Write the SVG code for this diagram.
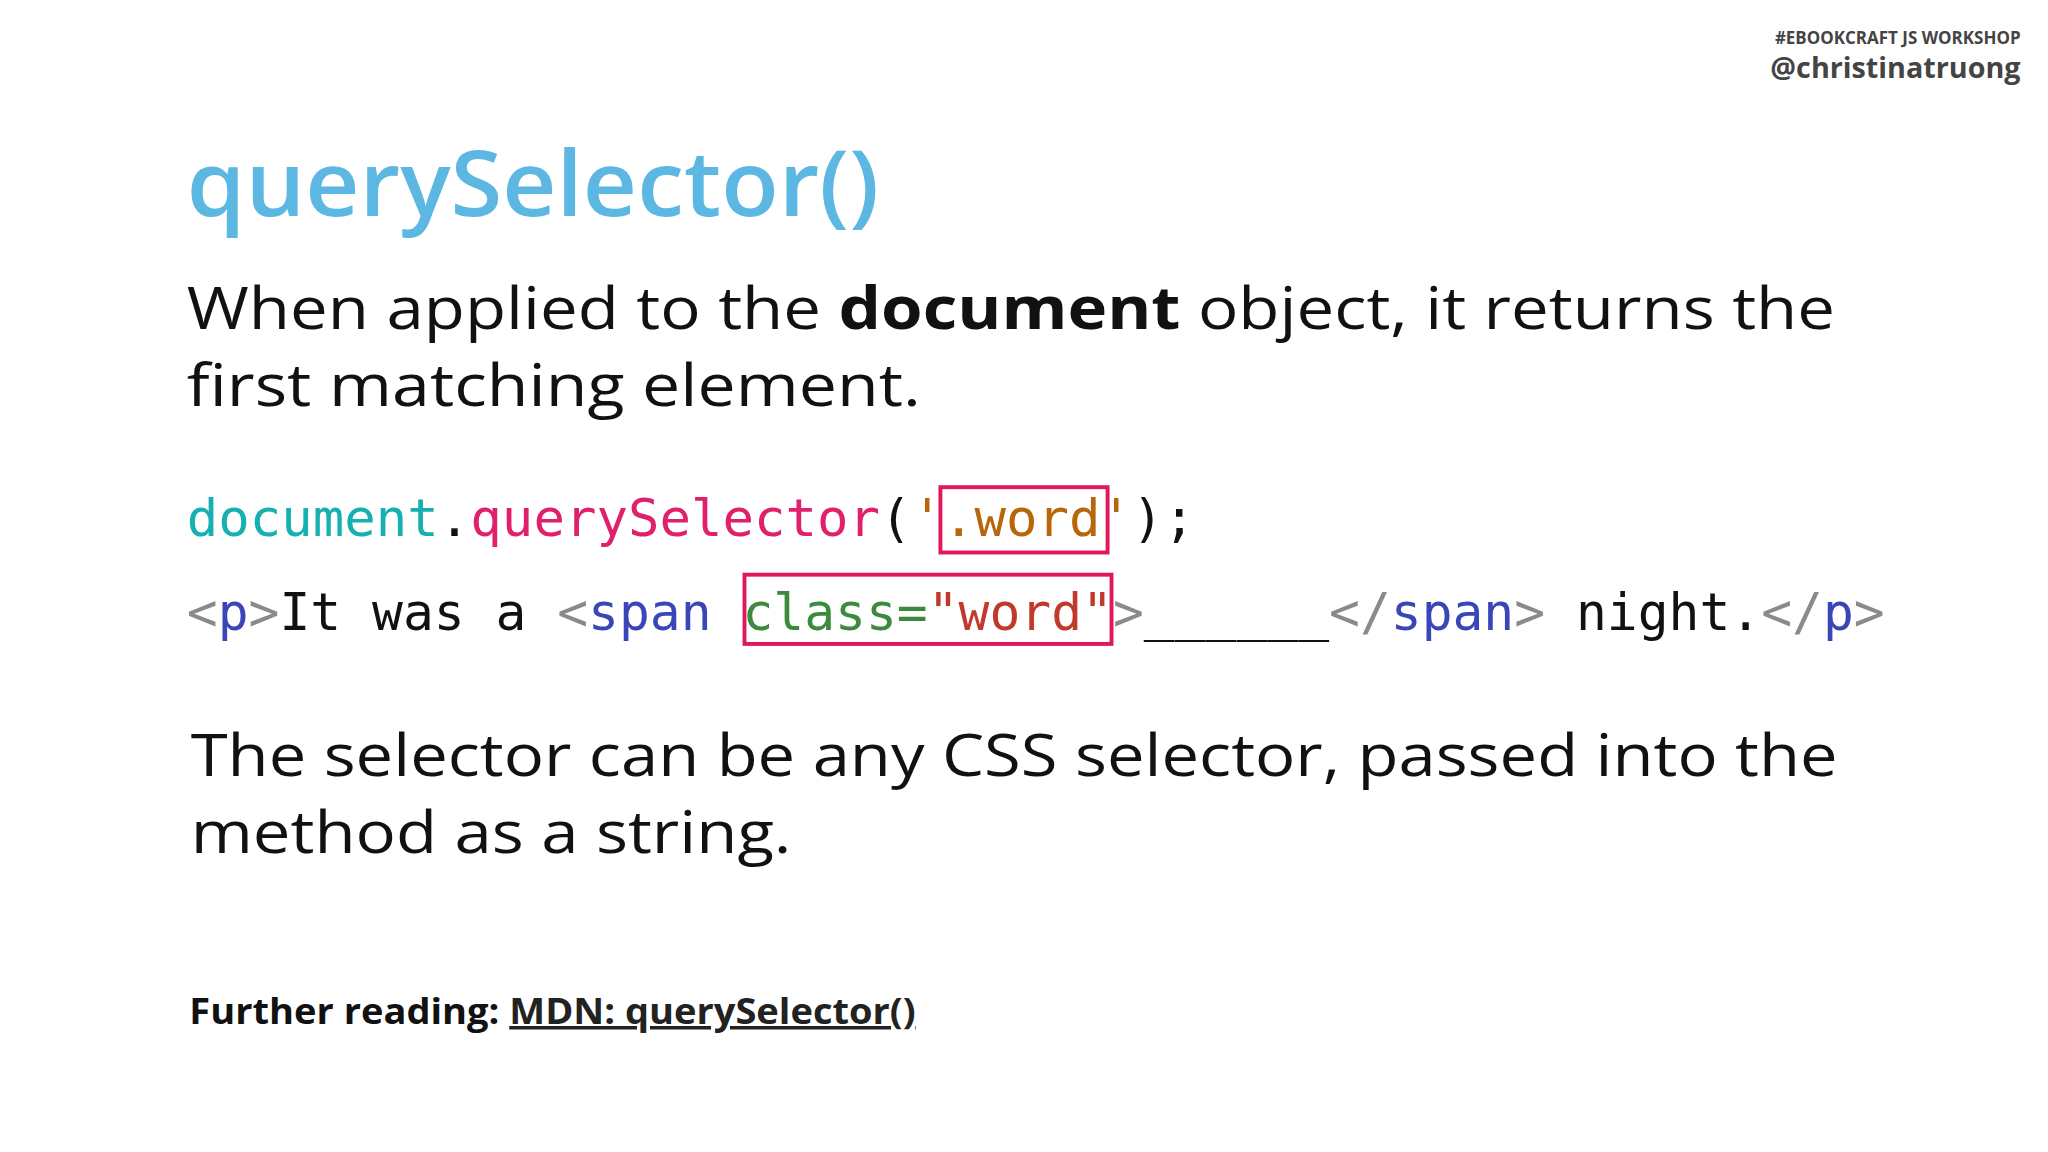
<svg xmlns="http://www.w3.org/2000/svg" width="2048" height="1152" viewBox="0 0 2048 1152">
<style>
.s{font-family:"Open Sans","DejaVu Sans",sans-serif}
.m{font-family:"DejaVu Sans Mono",monospace;font-size:39px}
.g{fill:#8a8a8a}.b{fill:#3a46b8}.k{fill:#111}
.box{fill:none;stroke:#e0185a;stroke-width:3}
</style>
<rect width="2048" height="1152" fill="#fff"/>
<g transform="scale(1.30612)">
<g id="header">
<text class="s" x="1547" y="34" text-anchor="end" font-size="13" font-weight="700" fill="#444">#EBOOKCRAFT JS WORKSHOP</text>
<text class="s" x="1547" y="60" text-anchor="end" font-size="22" font-weight="700" fill="#444">@christinatruong</text>
</g>
<g id="title"><text class="s" x="143" y="165" font-size="70" font-weight="600" fill="#5cb8e2" textLength="530" lengthAdjust="spacingAndGlyphs">querySelector()</text></g>
<g id="para1" class="s" font-size="45" fill="#111">
<text x="143" y="252" textLength="1262" lengthAdjust="spacingAndGlyphs">When applied to the <tspan font-weight="700">document</tspan> object, it returns the</text>
<text x="143" y="311" textLength="562" lengthAdjust="spacingAndGlyphs">first matching element.</text>
</g>
<g id="code1"><text class="m" x="143" y="410" textLength="772" lengthAdjust="spacingAndGlyphs"><tspan fill="#16b0b0">document</tspan><tspan class="k">.</tspan><tspan fill="#e0206a">querySelector</tspan><tspan class="k">(</tspan><tspan fill="#b8660a">'.word'</tspan><tspan class="k">);</tspan></text>
<rect class="box" x="720" y="373" width="128" height="50"/></g>
<g id="code2"><text class="m" x="143" y="482" textLength="1300" lengthAdjust="spacingAndGlyphs"><tspan class="g">&lt;</tspan><tspan class="b">p</tspan><tspan class="g">&gt;</tspan><tspan class="k">It was a </tspan><tspan class="g">&lt;</tspan><tspan class="b">span</tspan><tspan class="k"> </tspan><tspan fill="#3c8a3c">class=</tspan><tspan fill="#c0392b">"word"</tspan><tspan class="g">&gt;</tspan><tspan class="k">______</tspan><tspan class="g">&lt;/</tspan><tspan class="b">span</tspan><tspan class="g">&gt;</tspan><tspan class="k"> night.</tspan><tspan class="g">&lt;/</tspan><tspan class="b">p</tspan><tspan class="g">&gt;</tspan></text>
<rect class="box" x="570" y="440" width="281" height="53"/></g>
<g id="para2" class="s" font-size="45" fill="#111">
<text x="146" y="594" textLength="1261" lengthAdjust="spacingAndGlyphs">The selector can be any CSS selector, passed into the</text>
<text x="146" y="653" textLength="460" lengthAdjust="spacingAndGlyphs">method as a string.</text>
</g>
<g id="footer"><text class="s" x="145" y="784" font-size="27" font-weight="700" fill="#111" textLength="556" lengthAdjust="spacingAndGlyphs">Further reading: <tspan text-decoration="underline" fill="#222">MDN: querySelector()</tspan></text></g>
</g>
</svg>
